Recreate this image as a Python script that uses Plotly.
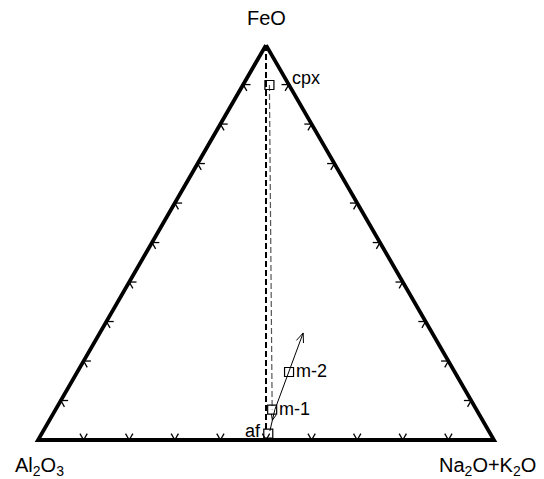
import math
import plotly.graph_objects as go

# ternary compositions in percent: (FeO, Al2O3, Na2O+K2O)
sample_names = ["cpx", "m-2", "m-1", "af"]
feo = [89.9, 17.2, 7.7, 1.6]
al2o3 = [4.3, 36.3, 44.8, 48.7]
alkali = [5.8, 46.4, 47.5, 49.7]

# trend arrow (starts near af, passes m-1 and m-2)
arrow_feo = [2.3, 7.7, 27.1]
arrow_al2o3 = [48.0, 44.2, 28.3]
arrow_alkali = [49.7, 48.1, 44.6]

tick_steps = [10, 20, 30, 40, 50, 60, 70, 80, 90]

S3 = math.sqrt(3) / 2


def tern(a, b, c):
    s = a + b + c
    a, c = a / s, c / s
    return c + a / 2, a * S3


fig = go.Figure()

# outer triangle
corners = [tern(100, 0, 0), tern(0, 100, 0), tern(0, 0, 100), tern(100, 0, 0)]
fig.add_trace(go.Scatter(x=[p[0] for p in corners], y=[p[1] for p in corners],
                         mode="lines", line=dict(color="black", width=3.8),
                         hoverinfo="skip"))

# small chevron ticks pointing along the grid directions
L = 0.016
tx, ty = [], []
dirs = {
    "bottom": [(math.cos(math.radians(60)), math.sin(math.radians(60))),
               (math.cos(math.radians(120)), math.sin(math.radians(120)))],
    "left": [(1, 0), (math.cos(math.radians(-60)), math.sin(math.radians(-60)))],
    "right": [(-1, 0), (math.cos(math.radians(240)), math.sin(math.radians(240)))],
}
for t in tick_steps:
    pts = {"bottom": tern(0, 100 - t, t), "left": tern(t, 100 - t, 0), "right": tern(t, 0, 100 - t)}
    for side, (x0, y0) in pts.items():
        for dx, dy in dirs[side]:
            tx += [x0, x0 + L * dx, None]
            ty += [y0, y0 + L * dy, None]
fig.add_trace(go.Scatter(x=tx, y=ty, mode="lines", line=dict(color="black", width=1.3),
                         hoverinfo="skip"))

# dashed tie lines
apex = tern(100, 0, 0)
af_top = tern(2.8, 48.6, 48.6)
fig.add_trace(go.Scatter(x=[apex[0], af_top[0]], y=[apex[1], af_top[1]], mode="lines",
                         line=dict(color="black", width=2, dash="6px,3px"), hoverinfo="skip"))
cp = tern(feo[0], al2o3[0], alkali[0])
m1 = tern(feo[2], al2o3[2], alkali[2])
fig.add_trace(go.Scatter(x=[cp[0], m1[0]], y=[cp[1], m1[1]], mode="lines",
                         line=dict(color="#555", width=1.2, dash="6px,3px"), hoverinfo="skip"))

# trend arrow
ap = [tern(a, b, c) for a, b, c in zip(arrow_feo, arrow_al2o3, arrow_alkali)]
ax_ = [p[0] for p in ap]
ay_ = [p[1] for p in ap]


def head(tip, frm, size=0.022, spread=22):
    ang = math.atan2(frm[1] - tip[1], frm[0] - tip[0])
    xs, ys = [], []
    for s in (-spread, spread):
        a = ang + math.radians(s)
        xs += [tip[0] + size * math.cos(a), tip[0], None]
        ys += [tip[1] + size * math.sin(a), tip[1], None]
    return xs, ys


hx1, hy1 = head(ap[-1], ap[-2])
mid = ((ap[0][0] + ap[1][0]) / 2, (ap[0][1] + ap[1][1]) / 2)
hx2, hy2 = head(mid, ap[1], size=0.014)
fig.add_trace(go.Scatter(x=ax_ + [None] + hx1 + hx2, y=ay_ + [None] + hy1 + hy2, mode="lines",
                         line=dict(color="black", width=1), hoverinfo="skip"))

# samples
px_ = [tern(a, b, c) for a, b, c in zip(feo, al2o3, alkali)]
fig.add_trace(go.Scatter(x=[p[0] for p in px_], y=[p[1] for p in px_], mode="markers",
                         marker=dict(symbol="square-open", size=9, color="black",
                                     line=dict(width=1.2)),
                         hoverinfo="skip"))

font = dict(family="Liberation Sans, Arial, Helvetica", size=18, color="black")
offsets = {"cpx": (21, 7, "left"), "m-2": (5, 1, "left"), "m-1": (5, 1, "left"), "af": (-5, 3, "right")}
for name, p in zip(sample_names, px_):
    dx, dy, anc = offsets[name]
    fig.add_annotation(x=p[0], y=p[1], text=name, showarrow=False, xanchor=anc,
                       xshift=dx, yshift=dy, font=font)

vfont = dict(family="Liberation Sans, Arial, Helvetica", size=20, color="black")
fig.add_annotation(x=corners[0][0], y=corners[0][1], text="FeO", showarrow=False,
                   yshift=27, font=vfont)
fig.add_annotation(x=corners[1][0], y=corners[1][1], text="Al<sub>2</sub>O<sub>3</sub>",
                   showarrow=False, yshift=-26, xshift=1, font=vfont)
fig.add_annotation(x=corners[2][0], y=corners[2][1], text="Na<sub>2</sub>O+K<sub>2</sub>O",
                   showarrow=False, yshift=-26, xshift=-7, font=vfont)

# page body has an 8px margin, so the figure starts at (8, 8) on screen
fig.update_layout(
    width=536, height=471, margin=dict(l=0, r=0, t=0, b=0),
    showlegend=False, plot_bgcolor="white", paper_bgcolor="white",
    xaxis=dict(range=[-30 / 456, 506 / 456], visible=False, fixedrange=True),
    yaxis=dict(range=[-39 / 456, 432 / 456], visible=False, fixedrange=True),
)

fig.write_html("out.html")
